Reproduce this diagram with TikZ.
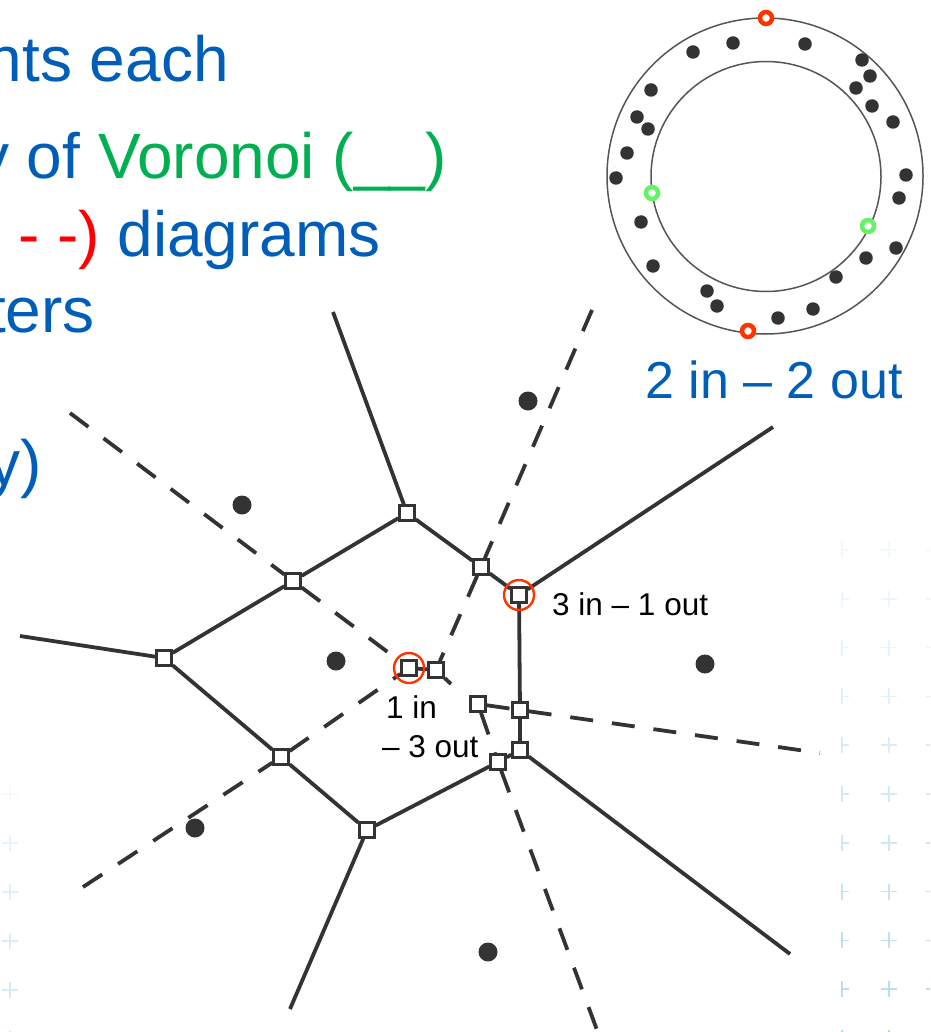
\documentclass[tikz,border=0pt]{standalone}
\usepackage{fontspec}
\setmainfont{Liberation Sans}
\definecolor{ink}{HTML}{333333}
\definecolor{tblue}{HTML}{005EB8}
\definecolor{tgreen}{HTML}{00B050}
\definecolor{tred}{HTML}{FF0000}
\definecolor{hred}{HTML}{FF3300}
\definecolor{mgreen}{HTML}{66F266}
\definecolor{ringc}{HTML}{555555}
\definecolor{gridc}{HTML}{7FC2E8}
\newcommand{\fbig}{\fontsize{64}{70}\selectfont}
\newcommand{\fmid}{\fontsize{52}{60}\selectfont}
\newcommand{\fsmall}{\fontsize{31.5}{38}\selectfont}
\begin{document}
\begin{tikzpicture}[x=1pt,y=-1pt,
  vor/.style={draw=ink, line width=3.8pt},
  del/.style={draw=ink, line width=3.8pt, dash pattern=on 23pt off 19pt},
  vtx/.style={rectangle, draw=ink, fill=white, line width=2.9pt, minimum size=14.5pt, inner sep=0pt},
  site/.style={circle, fill=ink, minimum size=19pt, inner sep=0pt},
  rdot/.style={circle, fill=ink, minimum size=13.5pt, inner sep=0pt},
  hl/.style={circle, draw=hred, line width=2.4pt, minimum size=30pt, inner sep=0pt},
  rmk/.style={circle, draw=hred, fill=white, line width=4.5pt, minimum size=12pt, inner sep=0pt},
  gmk/.style={circle, draw=mgreen, fill=white, line width=4.5pt, minimum size=12pt, inner sep=0pt},
  ttl/.style={inner sep=0pt, anchor=base east, font=\fbig},
  lbl/.style={inner sep=0pt, anchor=base west, font=\fsmall},
  plusc/.style={draw=gridc, line width=1.6pt}
]
\useasboundingbox (0,0) rectangle (930,1032);
\clip (0,0) rectangle (930,1032);

% faint background grid of plus signs
\foreach \k in {0,...,10} {
  \pgfmathsetmacro{\yy}{550+48.8*\k}
  \pgfmathsetmacro{\op}{0.10+0.05*\k}
  \draw[plusc, opacity=\op] (889,\yy-8) -- (889,\yy+8) (881,\yy) -- (897,\yy);
  \draw[plusc, opacity=\op] (842,\yy-8) -- (842,\yy+8) (842,\yy) -- (849,\yy);
  \draw[plusc, opacity=\op] (934,\yy-8) -- (934,\yy+8) (926,\yy) -- (942,\yy);
}
\foreach \yy/\op in {794/0.08, 843/0.2, 892/0.25, 941/0.3, 990/0.35, 1039/0.4} {
  \draw[plusc, opacity=\op] (10,\yy-8) -- (10,\yy+8) (2,\yy) -- (18,\yy);
}

% title text (cut at the left edge)
\node[ttl, text=tblue] (t1) at (229,82) {nts each};
\node[ttl] (t2) at (447,179) {\textcolor{tblue}{y of} \textcolor{tgreen}{Voronoi (\_\_)}};
\node[ttl] (t3) at (381,256) {\textcolor{tred}{- -)} \textcolor{tblue}{diagrams}};
\node[ttl, text=tblue] (t4) at (95,332) {ters};
\node[ttl, text=tblue] (t5) at (42,485) {y)};

% ring picture
\node[circle, draw=ringc, line width=1.5pt, minimum size=316pt, inner sep=0pt] (outer) at (765,176) {};
\node[circle, draw=ringc, line width=1.5pt, minimum size=230pt, inner sep=0pt] (inner) at (766,176.5) {};
\foreach \x/\y [count=\i] in {693/52, 733/43, 805/44, 862/60, 870/76, 856/88, 872/106, 893/122,
  651/90, 637/117, 648/129, 627/153, 616/178, 906/175, 899/198, 641/222, 896/248, 866/258,
  836/277, 653/266, 707/291, 717/306, 778/318, 813/309} {
  \node[rdot] (r\i) at (\x,\y) {};
}
\node[rmk] (mtop) at (766,18) {};
\node[rmk] (mbot) at (748,331) {};
\node[gmk] (mleft) at (652,193) {};
\node[gmk] (mright) at (868,226) {};
\node[anchor=base west, inner sep=0pt, font=\fmid, text=tblue] (lab22) at (645,398) {2 in – 2 out};

% sites
\node[site] (s1) at (528,401) {};
\node[site] (s2) at (242,505) {};
\node[site] (s3) at (336,661) {};
\node[site] (s4) at (705,664) {};
\node[site] (s5) at (195,828) {};
\node[site] (s6) at (488,952) {};

% Voronoi vertices
\node[vtx] (A) at (407,513) {};
\node[vtx] (B) at (293,581) {};
\node[vtx] (C) at (164,658) {};
\node[vtx] (D) at (281,757) {};
\node[vtx] (E) at (367,830) {};
\node[vtx] (F) at (481,567) {};
\node[vtx] (G) at (519,595) {};
\node[vtx] (H) at (520,710) {};
\node[vtx] (I) at (520,750) {};
\node[vtx] (J) at (498,762) {};
\node[vtx] (K) at (409,668) {};
\node[vtx] (L) at (436,670) {};
\node[vtx] (M) at (478,704) {};

% free ends
\coordinate (eA) at (333,312);
\coordinate (eG) at (773,427);
\coordinate (eI) at (790,954);
\coordinate (eE) at (290,1009);
\coordinate (eC) at (20,636);
\coordinate (dK1) at (70,413);
\coordinate (dK2) at (83,887);
\coordinate (dL) at (592,310);
\coordinate (dH) at (820,753);
\coordinate (dJ) at (597,1030);
\coordinate (sL) at (451,684);

% Voronoi edges (solid)
\draw[vor] (eA) -- (A);
\draw[vor] (A) -- (B);
\draw[vor] (A) -- (F);
\draw[vor] (F) -- (G);
\draw[vor] (G) -- (eG);
\draw[vor] (G) -- (H);
\draw[vor] (H) -- (I);
\draw[vor] (I) -- (eI);
\draw[vor] (I) -- (J);
\draw[vor] (J) -- (E);
\draw[vor] (E) -- (eE);
\draw[vor] (E) -- (D);
\draw[vor] (D) -- (C);
\draw[vor] (C) -- (B);
\draw[vor] (C) -- (eC);
\draw[vor] (K) -- (L);
\draw[vor] (L) -- (sL);

% Delaunay edges (dashed)
\draw[del] (dK1) -- (B);
\draw[del] (B) -- (K);
\draw[del] (dK2) -- (D);
\draw[del] (D) -- (K);
\draw[del] (dL) -- (F);
\draw[del] (F) -- (L);
\draw[del] (M) -- (H);
\draw[del] (H) -- (dH);
\draw[del] (M) -- (J);
\draw[del] (J) -- (dJ);

% highlights
\node[hl] (hK) at (K) {};
\node[hl] (hG) at (G) {};

% labels
\node[lbl] (l31) at (552,615) {3 in – 1 out};
\node[lbl] (l13a) at (386,718) {1 in};
\node[lbl] (l13b) at (382,757) {– 3 out};
\end{tikzpicture}
\end{document}
